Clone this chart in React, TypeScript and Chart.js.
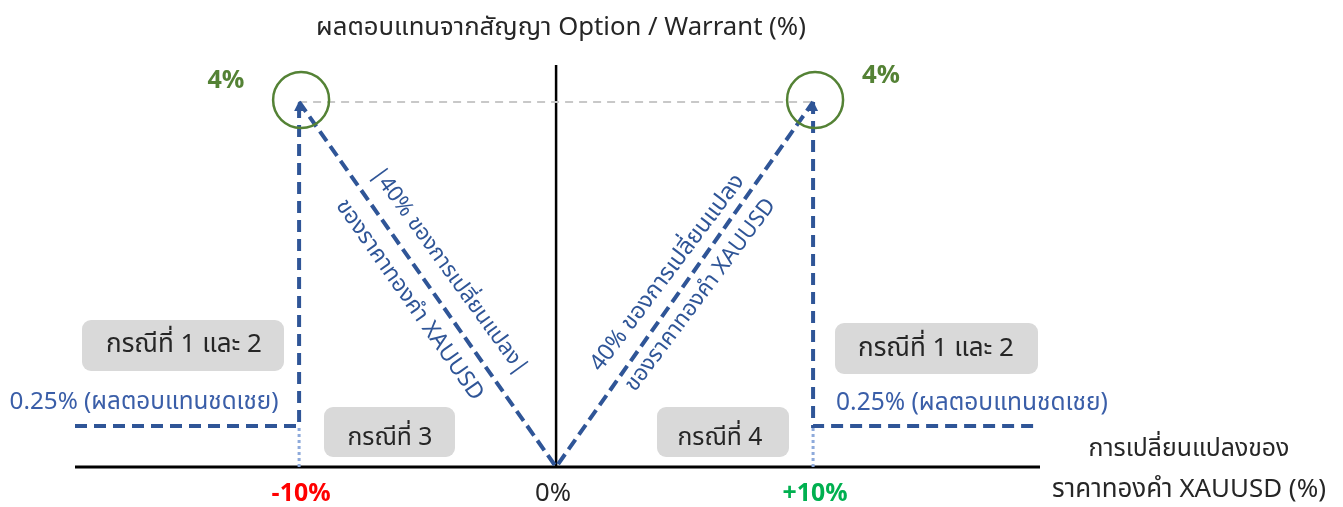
import { useEffect, useRef } from 'react';
import { Chart, registerables } from 'chart.js';

Chart.register(...registerables);

// ---- data (percent units) ----
const xRange = [-18.72, 18.83];
const yRange = [0, 4.405];
const tickValues = [-10, 0, 10];
const tickLabels = ['-10%', '0%', '+10%'];
const tickColors = ['#ff0000', '#262626', '#00b050'];
const payoffX = [-10, 0, 10];
const payoffY = [4, 0, 4];
const strikes = [-10, 10];
const capValue = 4;
const floorLevel = 0.45;
const leftFloorX = [xRange[0], -10, -10];
const leftFloorY = [floorLevel, floorLevel, capValue];
const rightFloorX = [10, 10, xRange[1]];
const rightFloorY = [capValue, floorLevel, floorLevel];
const capLabels = ['4%', '4%'];
const floorLabel = '0.25% (ผลตอบแทนชดเชย)';
const caseLabels = ['กรณีที่ 1 และ 2', 'กรณีที่ 3', 'กรณีที่ 4', 'กรณีที่ 1 และ 2'];
const slopeLine1 = ['|40% ของการเปลี่ยนแปลง|', '40% ของการเปลี่ยนแปลง'];
const slopeLine2 = 'ของราคาทองคำ XAUUSD';
const titleText = 'ผลตอบแทนจากสัญญา Option / Warrant (%)';
const xTitle = ['การเปลี่ยนแปลงของ', 'ราคาทองคำ XAUUSD (%)'];

const FONT = '"Leelawadee UI", Tahoma, "Noto Sans Thai", "Noto Sans", sans-serif';
const BLUE = '#2f5597';
const GREEN = '#548235';

const zip = (xs: number[], ys: number[]) => xs.map((x, i) => ({ x, y: ys[i] }));

function fitText(
  ctx: CanvasRenderingContext2D, text: string, cx: number, cy: number,
  width: number, color: string, weight = 'normal', angle = 0
) {
  ctx.save();
  ctx.font = `${weight} 20px ${FONT}`;
  const w = ctx.measureText(text).width || 1;
  const size = (20 * width) / w;
  ctx.font = `${weight} ${size}px ${FONT}`;
  ctx.fillStyle = color;
  ctx.textAlign = 'center';
  ctx.textBaseline = 'middle';
  ctx.translate(cx, cy);
  ctx.rotate((angle * Math.PI) / 180);
  ctx.fillText(text, 0, 0);
  ctx.restore();
}

function roundBox(ctx: CanvasRenderingContext2D, x: number, y: number, w: number, h: number, r: number) {
  ctx.save();
  ctx.fillStyle = '#d9d9d9';
  ctx.beginPath();
  ctx.moveTo(x + r, y);
  ctx.arcTo(x + w, y, x + w, y + h, r);
  ctx.arcTo(x + w, y + h, x, y + h, r);
  ctx.arcTo(x, y + h, x, y, r);
  ctx.arcTo(x, y, x + w, y, r);
  ctx.closePath();
  ctx.fill();
  ctx.restore();
}

const annotations = {
  id: 'annotations',
  beforeDatasetsDraw(chart: any) {
    const ctx = chart.ctx as CanvasRenderingContext2D;
    roundBox(ctx, 82, 320, 202, 51, 9);
    roundBox(ctx, 324, 407, 131, 50, 9);
    roundBox(ctx, 657, 407, 132, 50, 9);
    roundBox(ctx, 835, 323, 203, 51, 9);
  },
  afterDatasetsDraw(chart: any) {
    const ctx = chart.ctx as CanvasRenderingContext2D;
    const xs = chart.scales.x;
    const ys = chart.scales.y;
    // arrowheads and circles at the cap
    strikes.forEach((s) => {
      const px = xs.getPixelForValue(s);
      const py = ys.getPixelForValue(capValue);
      ctx.save();
      ctx.fillStyle = BLUE;
      ctx.beginPath();
      ctx.moveTo(px, py - 1);
      ctx.lineTo(px - 5, py + 9);
      ctx.lineTo(px + 5, py + 9);
      ctx.closePath();
      ctx.fill();
      ctx.strokeStyle = GREEN;
      ctx.lineWidth = 2.5;
      ctx.beginPath();
      ctx.arc(px + (s > 0 ? 2 : 2), py - 2, 28, 0, Math.PI * 2);
      ctx.stroke();
      ctx.restore();
    });
    // tick labels
    tickValues.forEach((v, i) => {
      const px = xs.getPixelForValue(v);
      const w = [59, 36, 65][i];
      fitText(ctx, tickLabels[i], px + (i === 1 ? -3 : 2), 496, w, tickColors[i], i === 1 ? 'normal' : 'bold');
    });
    // title & axis title
    fitText(ctx, titleText, 561, 30, 490, '#262626');
    fitText(ctx, xTitle[0], 1189, 451, 201, '#262626');
    fitText(ctx, xTitle[1], 1189, 492, 274, '#262626');
    // cap labels
    fitText(ctx, capLabels[0], 226, 83, 37, GREEN, 'bold');
    fitText(ctx, capLabels[1], 881, 78, 38, GREEN, 'bold');
    // case labels
    fitText(ctx, caseLabels[0], 184, 347, 156, '#262626');
    fitText(ctx, caseLabels[1], 390, 440, 85, '#262626');
    fitText(ctx, caseLabels[2], 720, 440, 85, '#262626');
    fitText(ctx, caseLabels[3], 936, 351, 156, '#262626');
    // floor labels
    fitText(ctx, floorLabel, 144, 404, 269, '#3a5ea8');
    fitText(ctx, floorLabel, 972, 405, 272, '#3a5ea8');
    // slope labels
    fitText(ctx, slopeLine1[0], 448, 272, 251, BLUE, 'normal', 54);
    fitText(ctx, slopeLine2, 408, 301, 240, BLUE, 'normal', 55);
    fitText(ctx, slopeLine1[1], 669, 274, 240, BLUE, 'normal', -53);
    fitText(ctx, slopeLine2, 702, 296, 235, BLUE, 'normal', -53);
  },
};

export default function App() {
  const ref = useRef<HTMLCanvasElement>(null);
  useEffect(() => {
    const common = {
      showLine: true,
      pointRadius: 0,
      pointHoverRadius: 0,
      fill: false,
      tension: 0,
      borderCapStyle: 'butt',
      borderJoinStyle: 'miter',
      clip: false,
    };
    const chart = new Chart(ref.current!, {
      type: 'scatter',
      data: {
        datasets: [
          { ...common, data: zip(payoffX, payoffY), borderColor: BLUE, borderWidth: 4, borderDash: [12, 6] },
          { ...common, data: zip(leftFloorX, leftFloorY), borderColor: BLUE, borderWidth: 4, borderDash: [12, 7] },
          { ...common, data: zip(rightFloorX, rightFloorY), borderColor: BLUE, borderWidth: 4, borderDash: [12, 7] },
          {
            ...common,
            data: [
              { x: strikes[0], y: 0 }, { x: strikes[0], y: floorLevel },
              { x: NaN, y: NaN },
              { x: strikes[1], y: 0 }, { x: strikes[1], y: floorLevel },
            ],
            spanGaps: false,
            borderColor: '#8eaadb',
            borderWidth: 3,
            borderDash: [3, 3],
          },
          {
            ...common,
            data: [{ x: strikes[0], y: capValue }, { x: strikes[1], y: capValue }],
            borderColor: '#c8c8c8',
            borderWidth: 2,
            borderDash: [8, 6],
          },
          { ...common, data: [{ x: 0, y: yRange[0] }, { x: 0, y: yRange[1] }], borderColor: '#000', borderWidth: 2.5 },
          { ...common, data: [{ x: xRange[0], y: 0 }, { x: xRange[1], y: 0 }], borderColor: '#000', borderWidth: 3 },
        ] as any,
      },
      options: {
        animation: false,
        responsive: false,
        devicePixelRatio: 1,
        layout: { padding: { left: 75, right: 303, top: 65, bottom: 40 } },
        plugins: { legend: { display: false }, tooltip: { enabled: false }, title: { display: false } },
        events: [],
        scales: {
          x: { type: 'linear', min: xRange[0], max: xRange[1], display: false },
          y: { type: 'linear', min: yRange[0], max: yRange[1], display: false },
        },
      },
      plugins: [annotations],
    });
    return () => chart.destroy();
  }, []);
  return (
    <div style={{ position: 'fixed', left: 0, top: 0, width: 1343, height: 507, background: '#fff' }}>
      <canvas ref={ref} width={1343} height={507} style={{ display: 'block', width: 1343, height: 507 }} />
    </div>
  );
}
